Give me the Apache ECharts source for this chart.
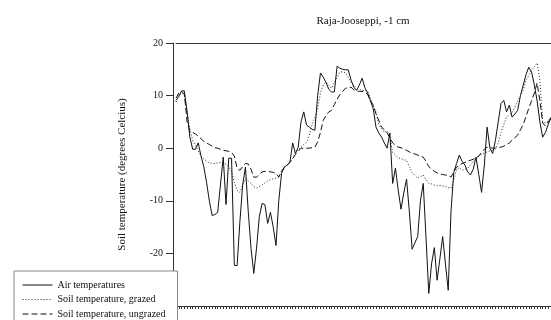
<!DOCTYPE html>
<html>
<head>
<meta charset="utf-8">
<script src="https://cdn.jsdelivr.net/npm/echarts@6/dist/echarts.min.js"></script>
<style>
  html, body { margin: 0; padding: 0; background: #fff; }
  #chart { width: 551px; height: 320px; }
</style>
</head>
<body>
<div id="chart"></div>
<script>
// weekly readings, index 0..135
const airTemp = [
  9.1, 9.8, 10.9, 10.9, 6.9, 2.1, -0.2, -0.2, 1.0, -1.5,
  -3.5, -6.5, -10, -12.8, -12.6, -12.2, -7, -1.7, -10.7, -1.9,
  -1.9, -22.3, -22.3, -14, -7, -3.6, -12, -19, -23.8, -19,
  -13, -10.5, -10.7, -14.3, -12.2, -15, -18.5, -10, -4.8, -3.6,
  -3.2, -2.7, 1.0, -1.0, 0.2, 5, 6.9, 4.4, 4, 3.6,
  3.4, 10, 14.3, 13.5, 12.5, 11.2, 10.7, 10.7, 15.6, 15.2,
  15, 14.9, 14.9, 13, 11.6, 11, 12, 13.3, 11.5, 10.5,
  9, 7.5, 4, 2.9, 2.1, 1, 0, 2.9, -6.7, -3.8,
  -8, -11.6, -8.5, -5.9, -12, -19.2, -18, -16.8, -10, -6.7,
  -17, -27.6, -22, -18.9, -25.1, -21, -16.8, -22, -27, -12,
  -4.6, -2.9, -1.3, -2.5, -3.2, -4.5, -5.1, -4, -1.7, -5,
  -8.4, -3.2, 4, 0, -1, 1.5, 5, 8.5, 9.1, 6.9,
  8.2, 5.9, 6.5, 7.2, 10, 12, 14, 15.4, 14.5, 12,
  9, 5, 2.1, 3, 4.5, 5.9
];
const soilGrazed = [
  8.8, 10, 10.5, 10, 7, 3.5, 1.5, 0.5, -0.5, -1.5,
  -2, -2.5, -2.8, -2.9, -2.9, -2.8, -2.7, -2.8, -3, -3.5,
  -4.5, -6.5, -8, -8.4, -7, -5.8, -6.2, -6.7, -7.3, -7.6,
  -7.3, -7, -6.6, -6.2, -6, -5.8, -5.7, -5.5, -4.5, -3.6,
  -3.2, -2.7, -1.9, -0.8, -0.3, 0.2, 0.7, 1.1, 2.5, 4.5,
  5.9, 7.5, 10.5, 12, 12.6, 12, 11.4, 12.5, 13.5, 14.5,
  14.5, 14.3, 13.5, 12.5, 12, 11.4, 11.2, 11, 11, 10.8,
  9.5, 8, 6.9, 4.5, 3.7, 3, 3.3, 2.1, -0.8, -1.3,
  -1.8, -2, -2.2, -2.3, -3.5, -4.6, -5.2, -5.7, -5.4, -5.1,
  -6, -6.7, -6.8, -7, -7.1, -7.1, -7.2, -7.3, -7.5, -7.6,
  -6.1, -4, -3.7, -4.2, -4, -3.8, -3.2, -2.5, -2, -1.5,
  -1.2, -0.9, -0.7, -0.5, -0.4, 0, 1, 3, 4.5, 5.9,
  6.3, 6.8, 7.8, 9, 10, 11, 13, 13.8, 14.9, 15.5,
  16.2, 13, 5, 4.8, 5.2, 5.9
];
const soilUngrazed = [
  9.5, 10.5, 10.8, 10.3, 5, 3.2, 3, 2.7, 2.3, 1.8,
  1.3, 1, 0.7, 0.4, 0.1, 0, -0.2, -0.4, -0.5, -0.6,
  -0.8, -1.5, -3.8, -4.2, -3.5, -2.9, -3, -4, -5.5, -5.5,
  -5, -4.5, -4.4, -4.4, -4.5, -4.6, -4.8, -5.5, -4.3, -3.7,
  -3.2, -2.7, -2, -1.2, -0.6, 0, 0, 0, 0, 0.1,
  0.2, 1.2, 3, 5.3, 6.2, 6.9, 7.2, 8.3, 9.3, 10.2,
  10.8, 11.4, 11.5, 11.6, 11.1, 10.9, 10.8, 10.8, 10.7, 10.2,
  9, 8.2, 6.5, 5.3, 4, 3.5, 2.9, 2, 1, 0.5,
  0.2, 0.1, -0.2, -0.4, -0.7, -1, -1.1, -1.3, -1.5, -1.7,
  -2.5, -3.5, -4, -4.4, -4.7, -4.9, -5, -5.1, -5.2, -5.5,
  -4.5, -3.6, -3.2, -2.9, -2.7, -2.4, -2.3, -2.1, -1.9, -1.5,
  -0.8, -0.2, 0.2, 0.1, 0, 0, 0.1, 0.2, 0.4, 0.7,
  1, 1.5, 2, 2.5, 3.5, 4.5, 6, 7.6, 9, 10.5,
  12.4, 9, 4.8, 4.2, 5, 5.7
];
const weeks = airTemp.map((v, i) => String(i + 1));
const seriesNames = ['Air temperatures', 'Soil temperature, grazed', 'Soil temperature, ungrazed'];

const serif = '"Liberation Serif", "Times New Roman", serif';
const chart = echarts.init(document.getElementById('chart'));

const option = {
  animation: false,
  backgroundColor: '#fff',
  textStyle: { fontFamily: serif },
  title: {
    text: 'Raja-Jooseppi, -1 cm',
    left: 358,
    top: 11,
    textAlign: 'center',
    textStyle: { fontFamily: serif, fontSize: 11, fontWeight: 'normal', color: '#111' }
  },
  grid: { left: 176, right: 0, top: 43, bottom: 14, containLabel: false },
  legend: {
    orient: 'vertical',
    left: 14,
    top: 271,
    height: 80,
    data: seriesNames,
    backgroundColor: '#fff',
    borderColor: '#888',
    borderWidth: 1,
    borderRadius: 0,
    padding: [9, 12, 10, 8],
    itemWidth: 30,
    itemHeight: 9,
    itemGap: 4.5,
    itemStyle: { opacity: 0 },
    lineStyle: { width: 1 },
    textStyle: { fontFamily: serif, fontSize: 10, color: '#111' },
    z: 10
  },
  xAxis: [
    {
      type: 'category',
      data: weeks,
      boundaryGap: false,
      position: 'bottom',
      axisLine: { onZero: false, lineStyle: { color: '#333', width: 1 } },
      axisTick: { show: true, interval: 0, length: 3, inside: false, lineStyle: { color: '#333' } },
      axisLabel: { show: false },
      splitLine: { show: false }
    },
    {
      type: 'category',
      data: weeks,
      boundaryGap: false,
      position: 'top',
      axisLine: { onZero: false, lineStyle: { color: '#333', width: 1 } },
      axisTick: { show: false },
      axisLabel: { show: false },
      splitLine: { show: false }
    }
  ],
  yAxis: {
    type: 'value',
    min: -30,
    max: 20,
    interval: 10,
    offset: 3,
    name: 'Soil temperature (degrees Celcius)',
    nameLocation: 'middle',
    nameGap: 45,
    nameRotate: 90,
    nameTextStyle: { fontFamily: serif, fontSize: 11, color: '#111' },
    axisLine: { show: true, onZero: false, lineStyle: { color: '#333', width: 1 } },
    axisTick: { show: true, length: 7, lineStyle: { color: '#333' } },
    axisLabel: {
      fontFamily: serif, fontSize: 10, color: '#111', margin: 10,
      formatter: v => (v === -30 ? '' : String(v))
    },
    splitLine: { show: false }
  },
  series: [
    {
      name: seriesNames[0],
      type: 'line',
      data: airTemp,
      symbol: 'none',
      lineStyle: { color: '#111', width: 1, type: 'solid' },
      itemStyle: { color: '#111' }
    },
    {
      name: seriesNames[1],
      type: 'line',
      data: soilGrazed,
      symbol: 'none',
      lineStyle: { color: '#222', width: 1, type: [1, 2] },
      itemStyle: { color: '#222' }
    },
    {
      name: seriesNames[2],
      type: 'line',
      data: soilUngrazed,
      symbol: 'none',
      lineStyle: { color: '#111', width: 1, type: [6, 3] },
      itemStyle: { color: '#111' }
    }
  ]
};

chart.setOption(option);
</script>
</body>
</html>
